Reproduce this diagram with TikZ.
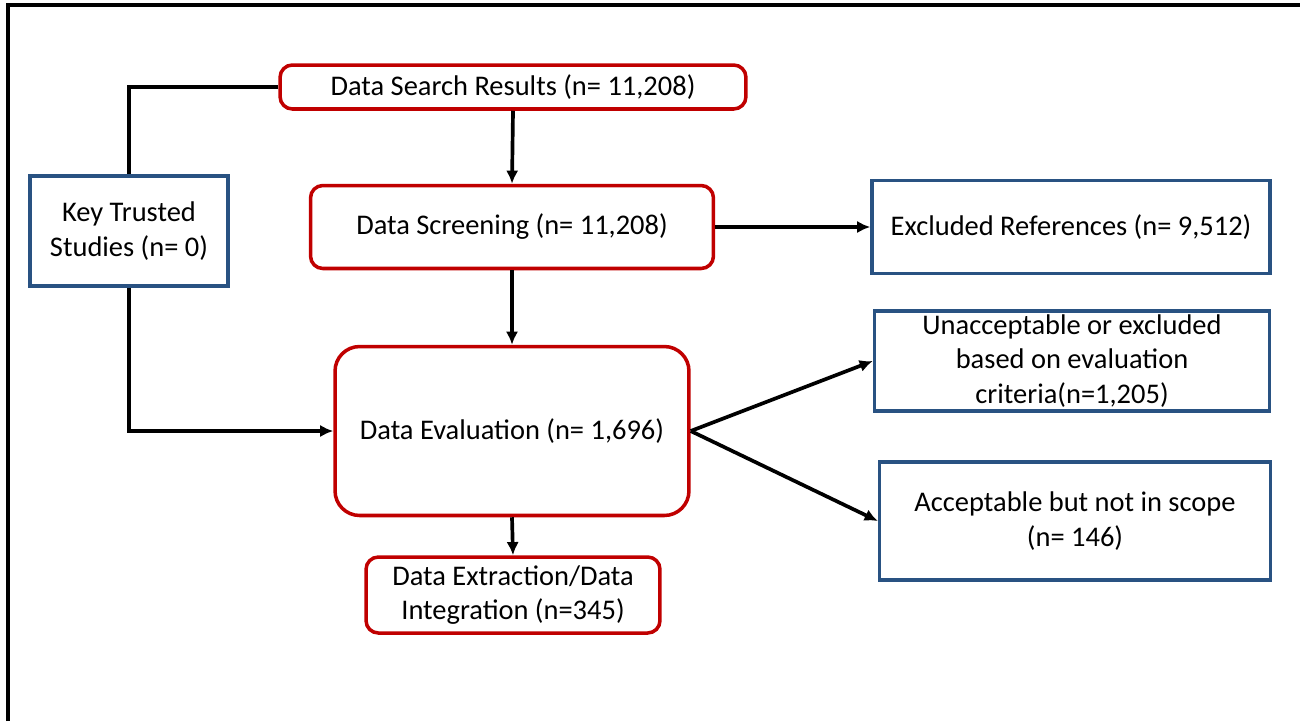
\documentclass[tikz,border=0pt]{standalone}
\usepackage{fontspec}
\setmainfont{Carlito}
\usetikzlibrary{arrows.meta}
\definecolor{redline}{RGB}{192,0,0}
\definecolor{blueline}{RGB}{41,82,130}
\begin{document}
\begin{tikzpicture}[x=0.02cm,y=-0.02cm,
   redbox/.style={draw=redline,line width=2pt,rounded corners=7pt,align=center,inner sep=0pt},
   bluebox/.style={draw=blueline,line width=2pt,align=center,inner sep=0pt},
   link/.style={black,line width=2.1pt},
   tip/.style={-{Latex[length=7.5pt,width=7pt]}},
   font=\fontsize{16.2}{19.5}\selectfont]
   \useasboundingbox (0,0) rectangle (1300,721);
   \draw [black,line width=2.4pt] (8,721) -- (8,5) -- (1300,5);
   \node [redbox,minimum width=9.32cm,minimum height=0.88cm] (search) at (513,87) {Data Search Results (n= 11,208)};
   \node [redbox,minimum width=8.06cm,minimum height=1.66cm] (screen) at (512,227) {Data Screening (n= 11,208)};
   \node [redbox,minimum width=7.08cm,minimum height=3.38cm,rounded corners=14pt] (eval) at (512,431) {Data Evaluation (n= 1,696)};
   \node [redbox,minimum width=5.88cm,minimum height=1.52cm] (extract) at (513,595) {Data Extraction/Data\\Integration (n=345)};
   \node [bluebox,minimum width=3.96cm,minimum height=2.2cm] (trusted) at (129,231) {Key Trusted\\Studies (n= 0)};
   \node [bluebox,minimum width=7.96cm,minimum height=1.86cm] (excluded) at (1071,227) {Excluded References (n= 9,512)};
   \node [bluebox,minimum width=7.9cm,minimum height=2.0cm] (unaccept) at (1072,361) {Unacceptable or excluded\\based on evaluation\\criteria(n=1,205)};
   \node [bluebox,minimum width=7.82cm,minimum height=2.36cm] (accept) at (1075,521) {Acceptable but not in scope\\(n= 146)};
   \draw [link] (search.west) -| (trusted.north);
   \draw [link,tip] (trusted.south) |- (eval.west);
   \draw [link,tip] (search.south) -- (screen.north);
   \draw [link,tip] (screen.south) -- (eval.north);
   \draw [link,tip] (screen.east) -- (excluded.west);
   \draw [link,tip] (eval.east) -- (unaccept.west);
   \draw [link,tip] (eval.east) -- (accept.west);
   \draw [link,tip] (eval.south) -- (extract.north);
\end{tikzpicture}
\end{document}
